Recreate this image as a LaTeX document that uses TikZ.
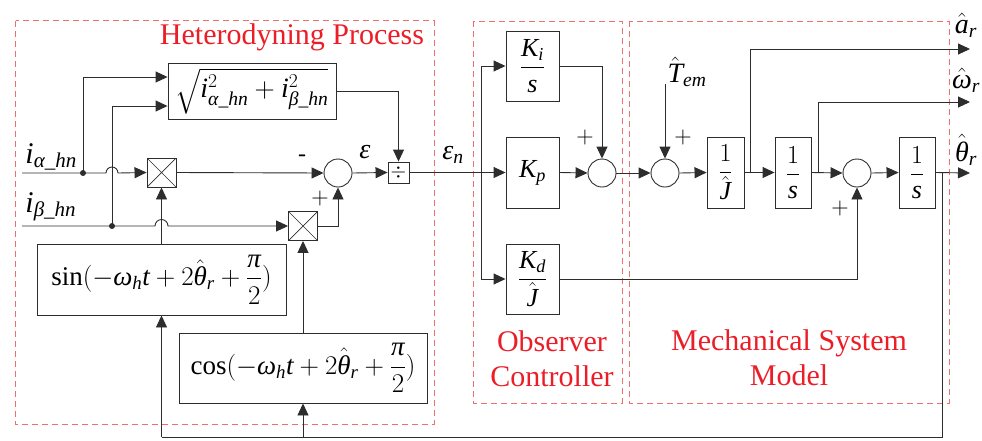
\RequirePackage{fix-cm}
\documentclass[tikz,border=0pt]{standalone}
\usepackage{amsmath}
\usepackage{fontspec}
\setmainfont{Liberation Serif}
\newfontfamily\tmsfam[NFSSFamily=tms]{Liberation Serif}
\DeclareSymbolFont{tletters}{TU}{tms}{m}{it}
\makeatletter
\count@=`a
\loop \Umathcode\count@="7 \symtletters \count@ \ifnum\count@<`z \advance\count@ 1 \repeat
\count@=`A
\loop \Umathcode\count@="7 \symtletters \count@ \ifnum\count@<`Z \advance\count@ 1 \repeat
\makeatother
\Umathchardef\alpha="7 \symtletters "03B1
\Umathchardef\beta="7 \symtletters "03B2
\Umathchardef\varepsilon="7 \symtletters "03B5
\Umathchardef\theta="7 \symtletters "03B8
\Umathchardef\omega="7 \symtletters "03C9
\Umathchardef\pi="7 \symtletters "03C0
\usetikzlibrary{arrows.meta,calc}
\definecolor{grpred}{RGB}{240,110,110}
\definecolor{txtred}{RGB}{235,30,40}
\definecolor{ln}{RGB}{45,45,45}
\begin{document}
\begin{tikzpicture}[x=1pt,y=-1pt,line width=0.9pt,draw=ln,
  blk/.style={draw=ln,rectangle,inner sep=0pt,font=\fontsize{26}{30}\selectfont},
  sumc/.style={draw=ln,circle,minimum size=28pt,inner sep=0pt},
  mult/.style={draw=ln,rectangle,minimum size=29pt,inner sep=0pt,
    path picture={\draw[line width=0.7pt] (path picture bounding box.north west)--(path picture bounding box.south east)
      (path picture bounding box.north east)--(path picture bounding box.south west);}},
  arr/.style={-{Triangle[length=12pt,width=11pt]}},
  grp/.style={draw=grpred,dash pattern=on 6pt off 4pt,line width=0.8pt},
  lbl/.style={text=txtred,font=\fontsize{30}{35}\selectfont,align=center,inner sep=0pt},
  mth/.style={font=\fontsize{28}{32}\selectfont,inner sep=0pt},
  sgn/.style={font=\fontsize{24}{28}\selectfont,inner sep=0pt}]
\useasboundingbox (0,0) rectangle (982,440);
% group frames
\draw[grp] (15.7,20.7) rectangle (434,424);
\draw[grp] (473,21) rectangle (622,403);
\draw[grp] (629,21) rectangle (949,403);
\node[lbl] (t1) at (292,37) {Heterodyning Process};
\node[lbl] (t2) at (552,359) {Observer\\Controller};
\node[lbl] (t3) at (789,358) {Mechanical System\\Model};
% blocks
\node[blk,minimum width=168pt,minimum height=56pt,font=\fontsize{28}{32}\selectfont] (sq) at (252,91) {$\sqrt{i^2_{\alpha\_hn}+i^2_{\beta\_hn}}$};
\node[mult] (m1) at (161.5,172.5) {};
\node[mult] (m2) at (303,226) {};
\node[sumc] (s1) at (338,173) {};
\node[blk,minimum size=21pt,font=\fontsize{20}{24}\selectfont] (dv) at (398.5,172.5) {$\div$};
\node[blk,minimum width=249pt,minimum height=71pt,font=\fontsize{27}{31}\selectfont] (sinb) at (161.5,279.5) {$\sin(-\omega_h t+2\hat{\theta}_r+\dfrac{\pi}{2})$};
\node[blk,minimum width=248pt,minimum height=70pt,font=\fontsize{27}{31}\selectfont] (cosb) at (303,368) {$\cos(-\omega_h t+2\hat{\theta}_r+\dfrac{\pi}{2})$};
\node[blk,minimum width=53pt,minimum height=70pt] (Ki) at (532.5,66) {$\dfrac{K_i}{s}$};
\node[blk,minimum width=53pt,minimum height=71pt] (Kp) at (532.5,172.5) {$K_p$};
\node[blk,minimum width=53pt,minimum height=70pt] (Kd) at (532.5,279) {$\dfrac{K_d}{\hat{J}}$};
\node[sumc] (s2) at (602,173) {};
\node[sumc] (s3) at (665,173) {};
\node[blk,minimum width=37pt,minimum height=71pt] (J) at (725.5,172.5) {$\dfrac{1}{\hat{J}}$};
\node[blk,minimum width=36pt,minimum height=71pt] (I1) at (793,172.5) {$\dfrac{1}{s}$};
\node[sumc] (s4) at (857,173) {};
\node[blk,minimum width=36pt,minimum height=71pt] (I2) at (917,172.5) {$\dfrac{1}{s}$};
% labels
\node[mth,anchor=base west,font=\fontsize{30}{34}\selectfont] (ia) at (25,163) {$i_{\alpha\_hn}$};
\node[mth,anchor=base west,font=\fontsize{30}{34}\selectfont] (ib) at (25,212) {$i_{\beta\_hn}$};
\node[mth] (eps) at (365,152) {$\varepsilon$};
\node[mth] (epsn) at (453,155) {$\varepsilon_n$};
\node[sgn] (mn) at (302,158) {-};
\node[sgn] (p1) at (320,198) {$+$};
\node[sgn] (p2) at (585,137) {$+$};
\node[sgn] (p3) at (683,137) {$+$};
\node[sgn] (p4) at (840,208) {$+$};
\node[mth] (tem) at (687,72) {$\hat{T}_{em}$};
\node[mth] (oa) at (966,25) {$\hat{a}_r$};
\node[mth] (ow) at (966,80) {$\hat{\omega}_r$};
\node[mth] (ot) at (966,150) {$\hat{\theta}_r$};
% coordinates
\coordinate (inA) at (22,173);
\coordinate (inB) at (22,226);
\coordinate (jA) at (83,173);
\coordinate (jB) at (112,226);
\coordinate (hA1) at (106,173);
\coordinate (hB1) at (155,226);
\coordinate (br) at (481,173);
\coordinate (tq) at (665,84);
\coordinate (jJ) at (750,173);
\coordinate (jI) at (818,173);
\coordinate (jT) at (942,173);
\coordinate (ea) at (970,49);
\coordinate (ew) at (970,102);
\coordinate (et) at (970,173);
\coordinate (bR) at (942,437);
\coordinate (bL) at (161.5,437);
\coordinate (bC) at (303,437);
% heterodyning connectors
\draw[arr] (inA) -- (hA1) arc[start angle=180,end angle=360,radius=6] -- (m1.west);
\draw[arr] (inB) -- (hB1) arc[start angle=180,end angle=360,radius=6.5] -- (m2.west);
\fill[ln] (jA) circle[radius=3];
\fill[ln] (jB) circle[radius=3];
\draw[arr] (jA) |- ($(sq.west)+(0,-14)$);
\draw[arr] (jB) |- ($(sq.west)+(0,15)$);
\draw[arr] (sinb.north) -- (m1.south);
\draw[arr] (cosb.north) -- (m2.south);
\draw[arr] (m1.east) -- (s1.west);
\draw[arr] (m2.east) -| (s1.south);
\draw[arr] (s1.east) -- (dv.west);
\draw[arr] (sq.east) -| (dv.north);
% controller
\draw[arr] (dv.east) -- (Kp.west);
\draw[arr] (br) |- (Ki.west);
\draw[arr] (br) |- (Kd.west);
\draw[arr] (Kp.east) -- (s2.west);
\draw[arr] (Ki.east) -| (s2.north);
\draw[arr] (s2.east) -- (s3.west);
\draw[arr] (tq) -- (s3.north);
% mechanical model
\draw[arr] (s3.east) -- (J.west);
\draw[arr] (J.east) -- (I1.west);
\draw[arr] (jJ) |- (ea);
\draw[arr] (I1.east) -- (s4.west);
\draw[arr] (jI) |- (ew);
\draw[arr] (s4.east) -- (I2.west);
\draw[arr] (I2.east) -- (et);
\draw[arr] (Kd.east) -| (s4.south);
% feedback
\draw (jT) -- (bR) -- (bL);
\draw[arr] (bL) -- (sinb.south);
\draw[arr] (bC) -- (cosb.south);
\end{tikzpicture}
\end{document}
